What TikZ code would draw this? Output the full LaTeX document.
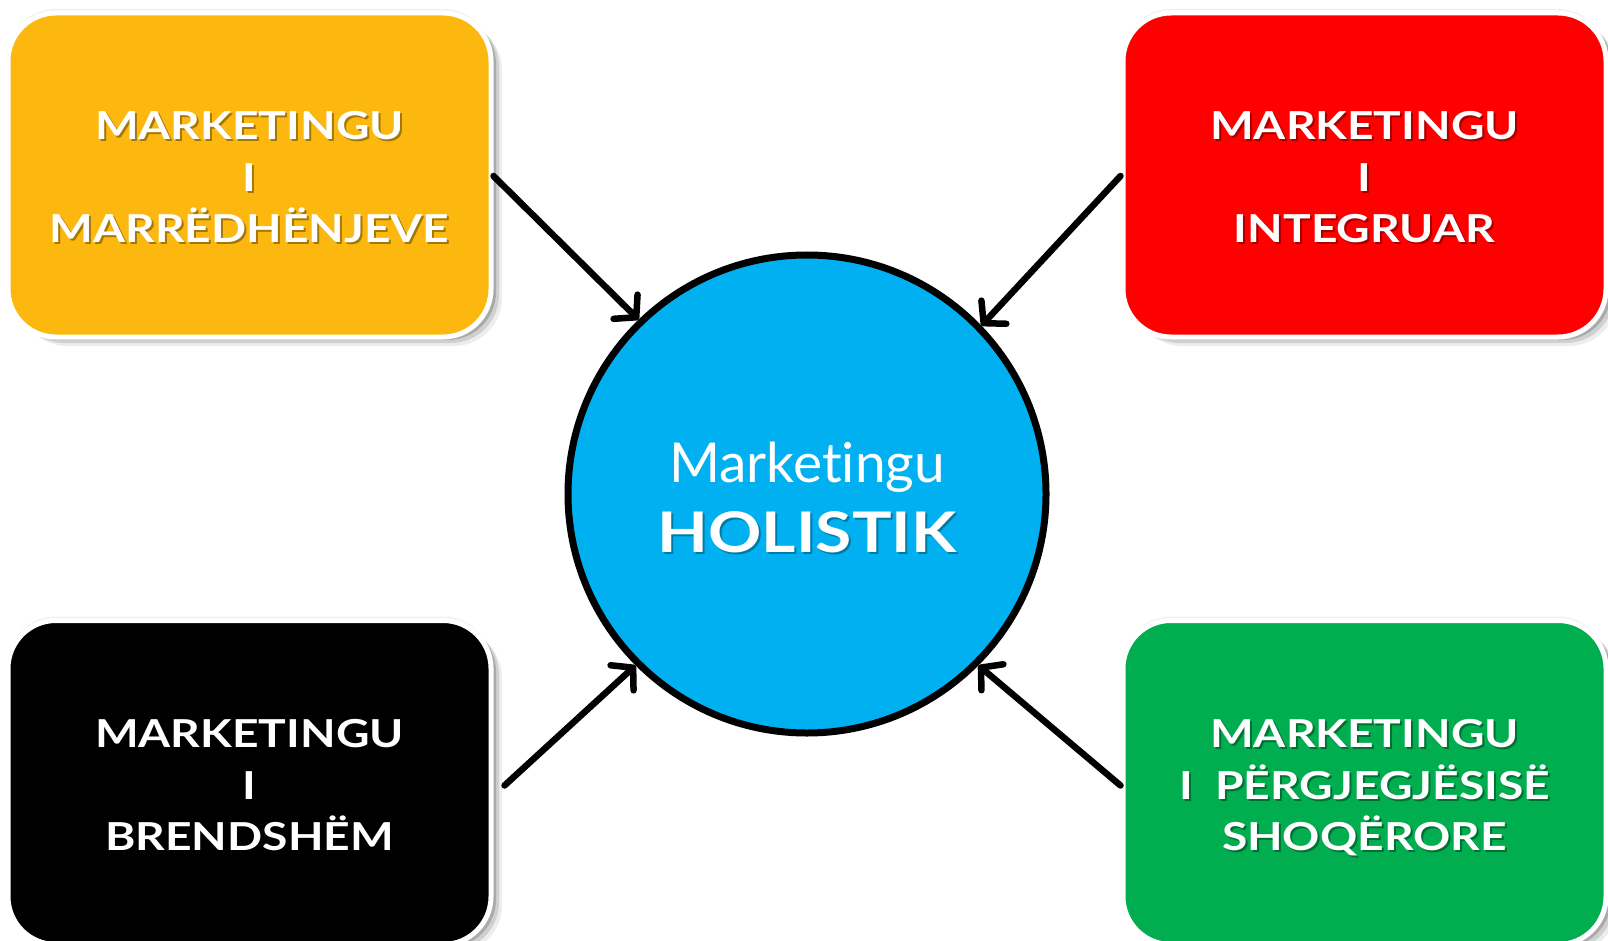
\documentclass[tikz,border=0pt]{standalone}
\usepackage{fontspec}
\setmainfont{Lato}[Ligatures=NoCommon]
\newfontfamily\boxfont{Lato}[FakeStretch=1.2,Ligatures=NoCommon]
\newfontfamily\hollfont{Lato}[FakeStretch=1.18,Ligatures=NoCommon]
\usetikzlibrary{arrows.meta,shadows}
\definecolor{orangebox}{HTML}{FDB80F}
\definecolor{redbox}{HTML}{FF0000}
\definecolor{greenbox}{HTML}{00AD4F}
\definecolor{bluecirc}{HTML}{00B0F0}
\tikzset{
  cardbox/.style={rectangle, rounded corners=48pt, minimum width=483pt, minimum height=324pt,
    draw=white, line width=5pt, inner sep=0pt,
    general shadow={shadow xshift=11pt, shadow yshift=-9pt, fill=black, opacity=0.07},
    general shadow={shadow xshift=8pt, shadow yshift=-6pt, fill=black, opacity=0.12},
    general shadow={shadow xshift=5pt, shadow yshift=-3pt, fill=black, opacity=0.18},
    general shadow={shadow xshift=0pt, shadow yshift=4pt, fill=black, opacity=0.06}},
  linetext/.style={anchor=base, inner sep=0pt, text=white, font=\boxfont\bfseries\fontsize{38.5}{46}\selectfont},
  lineshadow/.style={linetext, text=black, opacity=0.35},
  conn/.style={line width=6.5pt, line cap=round, -{Straight Barb[length=15pt,width=34pt,line width=6.5pt,round]}},
}
\newcommand{\sline}[4]{%
  \node[lineshadow] (#1s) at (#2+2,#3+2) {#4};
  \node[linetext] (#1) at (#2,#3) {#4};}
\begin{document}
\begin{tikzpicture}[x=1pt,y=-1pt]
\useasboundingbox (0,0) rectangle (1608,941);
\node[cardbox, fill=orangebox] (tl) at (249.5,175) {};
\node[cardbox, fill=redbox] (tr) at (1364.5,175) {};
\node[cardbox, fill=black] (bl) at (249.5,782.5) {};
\node[cardbox, fill=greenbox] (br) at (1364.5,782.5) {};
\node[circle, minimum size=478pt, inner sep=0pt, fill=bluecirc, draw=black, line width=7pt] (c) at (807,494) {};
% text
\sline{tla}{249.5}{140}{MARKETINGU}
\sline{tlb}{249.5}{192}{I}
\sline{tlc}{249.5}{243}{MARRËDHËNJEVE}
\sline{tra}{1364.5}{140}{MARKETINGU}
\sline{trb}{1364.5}{192}{I}
\sline{trc}{1364.5}{243}{INTEGRUAR}
\sline{bla}{249.5}{747}{MARKETINGU}
\sline{blb}{249.5}{799}{I}
\sline{blc}{249.5}{850}{BRENDSHËM}
\sline{bra}{1364.5}{747}{MARKETINGU}
\sline{brb}{1364.5}{799}{I\ \ PËRGJEGJËSISË}
\sline{brc}{1364.5}{850}{SHOQËRORE}
\node[anchor=base, inner sep=0pt, text=white, font=\fontsize{55}{60}\selectfont] (ca) at (807,482) {Marketingu};
\node[anchor=base, inner sep=0pt, text=black, opacity=0.3, font=\hollfont\bfseries\fontsize{56}{60}\selectfont] (cbs) at (809,554) {HOLISTIK};
\node[anchor=base, inner sep=0pt, text=white, font=\hollfont\bfseries\fontsize{56}{60}\selectfont] (cb) at (807,552) {HOLISTIK};
% connectors
\draw[conn] ([yshift=-1pt]tl.east) -- (c.134.5);
\draw[conn] ([yshift=-1pt]tr.west) -- (c.44.5);
\draw[conn] ([xshift=11pt,yshift=-3pt]bl.east) -- (c.225.5);
\draw[conn] ([yshift=-3pt]br.west) -- (c.-45);
\end{tikzpicture}
\end{document}
